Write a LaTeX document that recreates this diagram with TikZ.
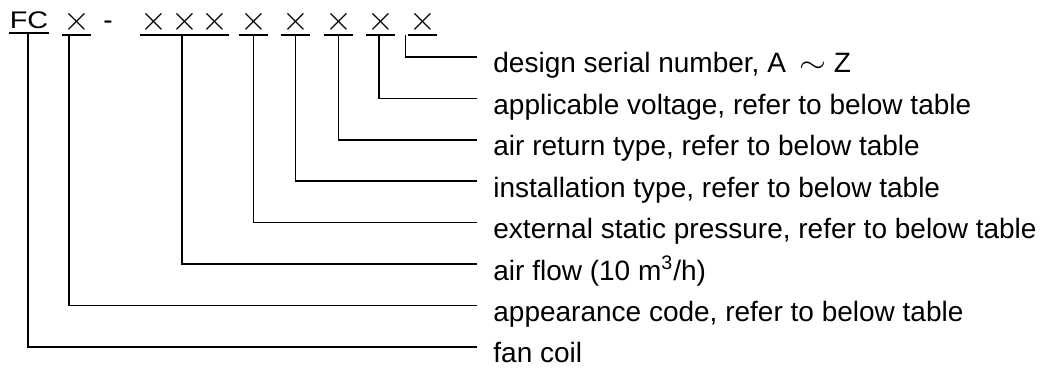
\documentclass[tikz,border=0pt]{standalone}
\usepackage{fontspec}
\setmainfont{Liberation Sans}
\usepackage{graphicx}
\newcommand{\xmark}{$\times$}

\begin{document}
\begin{tikzpicture}[
  x=0.5pt,y=-0.5pt,  code/.style={inner sep=0pt,anchor=south,text height=7pt,text depth=2.25pt,font=\fontsize{16pt}{18pt}\selectfont},  uline/.style={line width=1pt},  lead/.style={line width=0.8pt},  desc/.style={anchor=west,inner xsep=8pt,inner ysep=0pt,text height=16pt,text depth=0pt,font=\fontsize{14pt}{16pt}\selectfont}
]
  \useasboundingbox (0,0) rectangle (1042,369);
  % code letters
  \node[code,text height=8pt,text depth=2.5pt,minimum width=19pt,font=\fontsize{12pt}{14pt}\selectfont] (cfc) at (29,33.5) {\scalebox{1.2}[1]{FC}};
  \node[code,minimum width=14.5pt] (capp) at (76.5,35) {\xmark};
  \node[inner sep=0pt,anchor=base,font=\fontsize{14pt}{16pt}\selectfont] (hyph) at (108,30) {-};
  \node[code,minimum width=42.5pt] (cflow) at (184.5,35) {\xmark\hspace{1.8pt}\xmark\hspace{1.8pt}\xmark};
  \node[code,minimum width=14.5pt] (cpress) at (253.5,35) {\xmark};
  \node[code,minimum width=14.5pt] (cinst) at (295.5,35) {\xmark};
  \node[code,minimum width=14.5pt] (cret) at (338.5,35) {\xmark};
  \node[code,minimum width=14.5pt] (cvolt) at (380.5,35) {\xmark};
  \node[code,minimum width=14.5pt] (cser) at (422.5,35) {\xmark};
  \draw[uline] (cfc.south west) -- (cfc.south east);
  \draw[uline] (capp.south west) -- (capp.south east);
  \draw[uline] (cflow.south west) -- (cflow.south east);
  \draw[uline] (cpress.south west) -- (cpress.south east);
  \draw[uline] (cinst.south west) -- (cinst.south east);
  \draw[uline] (cret.south west) -- (cret.south east);
  \draw[uline] (cvolt.south west) -- (cvolt.south east);
  \draw[uline] (cser.south west) -- (cser.south east);
  % descriptions
  \node[desc] (lser) at (477,57) {design serial number, A\hspace{6.5pt}\scalebox{1.2}[1]{$\sim$}\hspace{4pt}Z};
  \node[desc] (lvolt) at (477,98.4) {applicable voltage, refer to below table};
  \node[desc] (lret) at (477,139.8) {air return type, refer to below table};
  \node[desc] (linst) at (477,181.2) {installation type, refer to below table};
  \node[desc] (lpress) at (477,222.6) {external static pressure, refer to below table};
  \node[desc] (lflow) at (477,264) {air flow (10 m\textsuperscript{3}/h)};
  \node[desc] (lapp) at (477,305.4) {appearance code, refer to below table};
  \node[desc] (lfc) at (477,346.8) {fan coil};
  % leaders
  \draw[lead] ([xshift=-1pt]cser.south west) |- (lser.west);
  \draw[lead] ([xshift=-0.75pt]cvolt.south) |- (lvolt.west);
  \draw[lead] (cret.south) |- (lret.west);
  \draw[lead] (cinst.south) |- (linst.west);
  \draw[lead] (cpress.south) |- (lpress.west);
  \draw[lead] ([xshift=-1.25pt]cflow.south) |- (lflow.west);
  \draw[lead] ([xshift=-3.75pt]capp.south) |- (lapp.west);
  \draw[lead] ([xshift=-0.5pt]cfc.south) |- (lfc.west);
\end{tikzpicture}
\end{document}
